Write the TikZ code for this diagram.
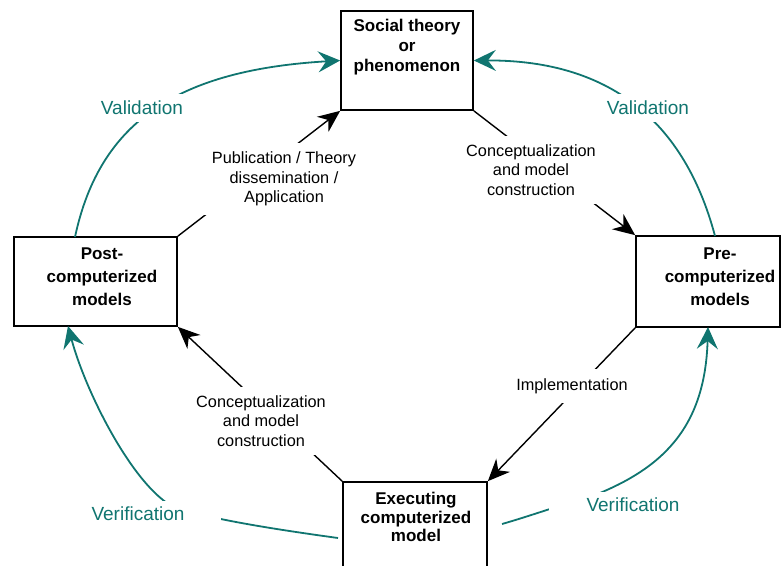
\documentclass[tikz,border=0pt]{standalone}
\usepackage{fontspec}
\setmainfont{Liberation Sans}
\usetikzlibrary{arrows.meta}
\definecolor{tealc}{RGB}{16,117,112}
\begin{document}
\begin{tikzpicture}[x=1pt,y=-1pt,
  boxnode/.style={draw=black, line width=1.7pt, inner sep=0pt},
  boxtext/.style={align=center, inner sep=0pt, font=\bfseries\fontsize{17}{#1}\selectfont},
  conn/.style={draw=black, line width=1.4pt, -{Stealth[length=22pt,width=19pt,inset=7pt]}},
  tconn/.style={draw=tealc, line width=1.8pt, -{Stealth[length=22pt,width=21pt,inset=8pt]}},
  lbl/.style={align=center, fill=white, inner sep=9pt, font=\fontsize{16.3}{19.5}\selectfont},
  tlbl/.style={fill=white, text=tealc, inner ysep=7pt, inner xsep=8pt, font=\fontsize{19}{22}\selectfont}]
\useasboundingbox (0,0) rectangle (781,565);
\clip (0,0) rectangle (781,565);

% boxes
\node[boxnode, minimum width=132pt, minimum height=99pt] (top) at (407,60.5) {};
\node[boxnode, minimum width=163pt, minimum height=89pt] (post) at (95.5,281.5) {};
\node[boxnode, minimum width=144pt, minimum height=91pt] (pre) at (708,281.5) {};
\node[boxnode, minimum width=144pt, minimum height=118pt] (exec) at (415,541) {};

\node[boxtext=20] (toplbl) at (407,47) {Social theory\\or\\phenomenon};
\node[boxtext=23] (postlbl) at (102,277) {Post-\\computerized\\models};
\node[boxtext=23] (prelbl) at (720,277) {Pre-\\computerized\\models};
\node[boxtext=18.5] (execlbl) at (416,517) {Executing\\computerized\\model};

% black connectors
\draw[conn] (top.south east) -- (pre.north west);
\draw[conn] (pre.south west) -- (exec.north east);
\draw[conn] (exec.north west) -- (post.south east);
\draw[conn] (post.north east) -- (top.south west);

% teal connectors
\coordinate (valL) at (75,237);
\coordinate (valR) at (715,236);
\coordinate (verLs) at (338,538);
\coordinate (verLe) at (68,326);
\coordinate (verRs) at (502,524);
\coordinate (verRe) at (708,327);
\draw[tconn] (valL) .. controls (100,120) and (180,70) .. (top.west);
\draw[tconn] (valR) .. controls (682,112) and (600,60) .. (top.east);
\draw[tconn] (verLs) .. controls (280,530) and (200,518) .. (170,505)
  .. controls (130,480) and (85,390) .. (verLe);
\draw[tconn] (verRs) .. controls (530,516) and (560,505) .. (590,497)
  .. controls (660,470) and (705,430) .. (verRe);

% labels
\node[lbl] (l1) at (531,170) {Conceptualization\\and model\\construction};
\node[lbl] (l2) at (284,179) {Publication / Theory\\dissemination /\\Application};
\node[lbl] (l3) at (572,386) {Implementation};
\node[lbl] (l4) at (261,421) {Conceptualization\\and model\\construction};
\node[tlbl] (v1) at (142,108) {Validation};
\node[tlbl] (v2) at (648,108) {Validation};
\node[tlbl, inner xsep=37pt, inner ysep=6pt] (v3) at (138,514) {Verification};
\node[tlbl, inner xsep=38pt, inner ysep=6pt] (v4) at (633,505) {Verification};
\end{tikzpicture}
\end{document}
